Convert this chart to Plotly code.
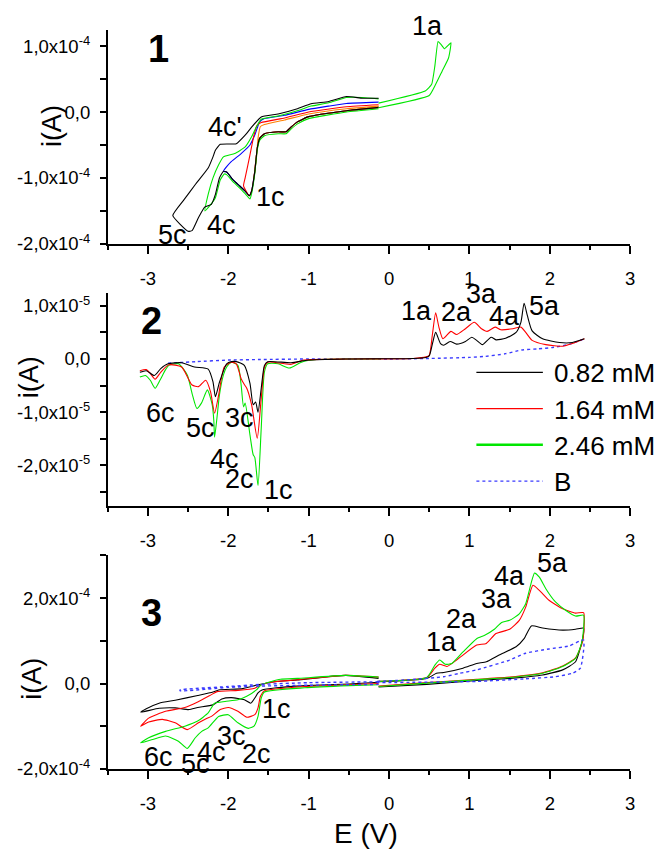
import plotly.graph_objects as go

FONT = "Liberation Sans, Arial, sans-serif"
W, H = 664, 857

# ---------------- Panel 1: CVs with different switching potentials (i in 1e-4 A)
P1_SCALE = 1e-4
P1_BLACK = [(-0.13, 0.07), (-0.53, 0.02), (-1.00, -0.07), (-1.14, -0.15), (-1.22, -0.23),
            (-1.28, -0.30), (-1.38, -0.30), (-1.55, -0.33), (-1.61, -0.40), (-1.64, -0.55),
            (-1.67, -0.90), (-1.71, -1.20), (-1.74, -1.27), (-1.79, -1.20), (-1.86, -1.12),
            (-1.94, -1.03), (-2.02, -0.91), (-2.06, -0.90), (-2.11, -1.00), (-2.16, -1.25),
            (-2.21, -1.40), (-2.29, -1.44), (-2.37, -1.60), (-2.45, -1.80), (-2.50, -1.81),
            (-2.69, -1.57), (-2.55, -1.33), (-2.41, -1.10), (-2.25, -0.85), (-2.19, -0.68),
            (-2.16, -0.58), (-2.10, -0.49), (-1.90, -0.48), (-1.79, -0.35), (-1.71, -0.23),
            (-1.59, -0.075), (-1.38, -0.03), (-1.14, 0.05), (-0.97, 0.125), (-0.75, 0.16),
            (-0.53, 0.235), (-0.33, 0.21), (-0.13, 0.21)]
P1_GREEN = [(-0.13, 0.05), (-0.53, 0.00), (-1.00, -0.10), (-1.14, -0.18), (-1.22, -0.26),
            (-1.28, -0.33), (-1.38, -0.33), (-1.55, -0.36), (-1.61, -0.43), (-1.64, -0.58),
            (-1.67, -0.93), (-1.71, -1.24), (-1.73, -1.32), (-1.79, -1.24), (-1.86, -1.15),
            (-1.94, -1.06), (-2.02, -0.95), (-2.05, -0.94), (-2.10, -1.03), (-2.16, -1.30),
            (-2.23, -1.42), (-2.29, -1.50), (-2.25, -1.25), (-2.19, -1.00), (-2.12, -0.80),
            (-2.06, -0.68), (-1.92, -0.63), (-1.79, -0.53), (-1.71, -0.375), (-1.65, -0.225),
            (-1.59, -0.11), (-1.38, -0.06), (-1.14, 0.02), (-0.97, 0.09), (-0.75, 0.14),
            (-0.53, 0.22), (-0.33, 0.22), (-0.13, 0.20)]
P1_GREEN_ANODIC = [(-0.13, 0.135), (0.45, 0.32), (0.53, 0.42), (0.57, 0.70), (0.61, 1.07),
                   (0.65, 1.02), (0.69, 0.96), (0.77, 1.05), (0.74, 0.82), (0.66, 0.62),
                   (0.58, 0.42), (0.50, 0.25), (-0.13, 0.065)]
P1_BLUE = [(-0.13, 0.07), (-0.53, 0.02), (-1.00, -0.07), (-1.14, -0.15), (-1.22, -0.23),
           (-1.28, -0.30), (-1.38, -0.30), (-1.55, -0.33), (-1.61, -0.40), (-1.64, -0.55),
           (-1.67, -0.90), (-1.71, -1.20), (-1.74, -1.27), (-1.79, -1.20), (-1.86, -1.12),
           (-1.94, -1.03), (-2.02, -0.91), (-2.06, -0.90), (-2.02, -0.83), (-1.96, -0.75),
           (-1.84, -0.63), (-1.73, -0.50), (-1.67, -0.35), (-1.61, -0.15), (-1.55, -0.10),
           (-1.30, -0.05), (-1.00, 0.04), (-0.75, 0.09), (-0.53, 0.13), (-0.13, 0.15)]
P1_RED = [(-0.13, 0.07), (-0.53, 0.02), (-1.00, -0.07), (-1.14, -0.15), (-1.22, -0.23),
          (-1.28, -0.30), (-1.38, -0.30), (-1.55, -0.33), (-1.61, -0.40), (-1.64, -0.55),
          (-1.67, -0.90), (-1.71, -1.20), (-1.74, -1.27), (-1.81, -1.12), (-1.79, -1.00),
          (-1.73, -0.65), (-1.68, -0.35), (-1.64, -0.20), (-1.59, -0.16), (-1.30, -0.09),
          (-1.00, 0.00), (-0.53, 0.08), (-0.13, 0.11)]
P1_ORANGE = [(-0.13, 0.07), (-0.53, 0.02), (-1.00, -0.07), (-1.14, -0.15), (-1.22, -0.23),
             (-1.28, -0.30), (-1.38, -0.30), (-1.55, -0.33), (-1.61, -0.40), (-1.64, -0.55),
             (-1.68, -1.00), (-1.65, -0.70), (-1.63, -0.40), (-1.60, -0.22), (-1.55, -0.19),
             (-1.30, -0.12), (-1.00, -0.03), (-0.53, 0.05), (-0.13, 0.09)]

# ---------------- Panel 2: pulse voltammograms (i in 1e-5 A)
P2_SCALE = 1e-5
P2_BLACK = [(-3.10, -0.25), (-3.02, -0.22), (-2.92, -0.31), (-2.84, -0.18), (-2.75, -0.09),
            (-2.58, -0.07), (-2.42, -0.15), (-2.25, -0.19), (-2.19, -0.43), (-2.16, -0.71),
            (-2.11, -0.44), (-2.02, -0.09), (-1.96, -0.05), (-1.90, -0.05), (-1.80, -0.12),
            (-1.73, -0.46), (-1.69, -0.86), (-1.66, -0.81), (-1.63, -1.00), (-1.59, -0.55),
            (-1.55, -0.12), (-1.51, -0.05), (-1.22, -0.07), (-1.00, -0.02), (-0.50, 0.00),
            (0.30, 0.01), (0.46, 0.03), (0.50, 0.06), (0.54, 0.29), (0.58, 0.50), (0.64, 0.29),
            (0.68, 0.26), (0.76, 0.33), (0.84, 0.28), (0.95, 0.33), (1.03, 0.41), (1.09, 0.35),
            (1.16, 0.27), (1.27, 0.41), (1.33, 0.36), (1.45, 0.39), (1.58, 0.50), (1.64, 0.69),
            (1.68, 1.05), (1.72, 0.82), (1.78, 0.53), (1.91, 0.38), (2.12, 0.31), (2.28, 0.31),
            (2.43, 0.38)]
P2_RED = [(-3.10, -0.22), (-3.02, -0.20), (-2.97, -0.27), (-2.91, -0.38), (-2.84, -0.25),
          (-2.74, -0.11), (-2.58, -0.15), (-2.45, -0.49), (-2.37, -0.52), (-2.28, -0.40),
          (-2.22, -0.62), (-2.17, -1.02), (-2.12, -0.68), (-2.05, -0.15), (-1.96, -0.06),
          (-1.90, -0.09), (-1.84, -0.37), (-1.80, -0.48), (-1.77, -0.55), (-1.71, -0.86),
          (-1.64, -1.49), (-1.59, -0.74), (-1.55, -0.15), (-1.51, -0.06), (-1.30, -0.09),
          (-1.22, -0.10), (-1.06, -0.02), (-0.50, 0.00), (0.30, 0.01), (0.46, 0.04),
          (0.50, 0.07), (0.54, 0.47), (0.58, 0.87), (0.62, 0.60), (0.67, 0.38), (0.77, 0.52),
          (0.84, 0.46), (0.95, 0.57), (1.06, 0.69), (1.15, 0.57), (1.22, 0.52), (1.32, 0.60),
          (1.39, 0.55), (1.54, 0.57), (1.64, 0.60), (1.70, 0.50), (1.78, 0.35), (1.95, 0.27),
          (2.16, 0.24), (2.28, 0.29), (2.43, 0.38)]
P2_GREEN = [(-3.10, -0.34), (-3.03, -0.31), (-2.97, -0.40), (-2.91, -0.55), (-2.85, -0.40),
            (-2.78, -0.20), (-2.74, -0.12), (-2.62, -0.09), (-2.51, -0.30), (-2.45, -0.65),
            (-2.39, -0.93), (-2.33, -0.82), (-2.26, -0.58), (-2.20, -0.86), (-2.18, -1.15),
            (-2.17, -1.47), (-2.14, -1.10), (-2.11, -0.68), (-2.06, -0.30), (-2.02, -0.15),
            (-1.96, -0.06), (-1.88, -0.12), (-1.84, -0.49), (-1.81, -0.90), (-1.79, -0.83),
            (-1.73, -1.43), (-1.69, -1.80), (-1.67, -1.85), (-1.63, -2.38), (-1.59, -1.30),
            (-1.55, -0.24), (-1.51, -0.09), (-1.38, -0.09), (-1.24, -0.17), (-1.09, -0.06),
            (-0.90, -0.01), (-0.50, 0.00), (-0.10, 0.00)]
P2_BLANK = [(-2.75, -0.08), (-2.40, -0.05), (-2.00, -0.02), (-1.60, -0.01), (-1.00, 0.00),
            (0.00, 0.00), (0.50, 0.01), (1.00, 0.03), (1.20, 0.05), (1.45, 0.10), (1.65, 0.17),
            (1.85, 0.19), (2.05, 0.22), (2.25, 0.28), (2.43, 0.38)]

# ---------------- Panel 3: full-range CVs (i in 1e-4 A)
P3_SCALE = 1e-4
P3_BLACK_NEG = [(-0.13, 0.03), (-0.50, -0.01), (-1.03, -0.05), (-1.40, -0.10), (-1.58, -0.15),
                (-1.63, -0.22), (-1.67, -0.34), (-1.72, -0.46), (-1.80, -0.38), (-1.96, -0.33),
                (-2.08, -0.36), (-2.19, -0.50), (-2.38, -0.56), (-2.49, -0.61), (-2.66, -0.57),
                (-2.86, -0.58), (-3.09, -0.67), (-3.02, -0.59), (-2.86, -0.46), (-2.66, -0.39),
                (-2.38, -0.28), (-2.19, -0.20), (-2.12, -0.15), (-1.82, -0.12), (-1.63, -0.03),
                (-1.47, 0.03), (-1.14, 0.085), (-0.54, 0.19), (-0.13, 0.12)]
P3_RED_NEG = [(-0.13, 0.00), (-0.50, -0.03), (-1.05, -0.07), (-1.55, -0.17), (-1.60, -0.30),
              (-1.63, -0.57), (-1.67, -0.73), (-1.77, -0.79), (-1.88, -0.65), (-2.00, -0.56),
              (-2.10, -0.61), (-2.21, -0.77), (-2.27, -0.82), (-2.37, -0.92), (-2.51, -1.08),
              (-2.66, -0.92), (-2.82, -0.84), (-2.99, -0.90), (-3.09, -1.00), (-2.99, -0.81),
              (-2.78, -0.65), (-2.54, -0.56), (-2.38, -0.43), (-2.21, -0.26), (-2.14, -0.19),
              (-1.88, -0.16), (-1.67, -0.11), (-1.59, -0.03), (-1.47, 0.03), (-1.14, 0.09),
              (-0.54, 0.19), (-0.13, 0.15)]
P3_GREEN_NEG = [(-0.13, -0.03), (-0.50, -0.05), (-1.05, -0.10), (-1.55, -0.20), (-1.59, -0.34),
                (-1.63, -0.77), (-1.68, -1.00), (-1.75, -1.05), (-1.88, -0.92), (-2.00, -0.73),
                (-2.12, -0.77), (-2.25, -1.04), (-2.33, -1.12), (-2.41, -1.27), (-2.51, -1.52),
                (-2.62, -1.35), (-2.78, -1.23), (-2.94, -1.31), (-3.09, -1.39), (-2.99, -1.27),
                (-2.78, -1.12), (-2.54, -1.00), (-2.38, -0.88), (-2.25, -0.69), (-2.17, -0.46),
                (-2.04, -0.42), (-1.88, -0.38), (-1.77, -0.30), (-1.65, -0.15), (-1.59, -0.03),
                (-1.35, 0.10), (-1.14, 0.12), (-0.54, 0.19), (-0.13, 0.15)]
P3_BLANK_NEG = [(-0.13, 0.04), (-1.00, 0.02), (-1.60, -0.02), (-2.00, -0.07), (-2.60, -0.15),
                (-2.60, -0.17), (-2.00, -0.09), (-1.60, -0.06), (-1.00, -0.04), (-0.13, -0.02)]
P3_GREEN_POS = [(-0.13, 0.05), (0.47, 0.14), (0.57, 0.43), (0.63, 0.55), (0.70, 0.45),
                (0.78, 0.47), (0.92, 0.74), (1.09, 1.05), (1.19, 1.13), (1.31, 1.27),
                (1.40, 1.43), (1.50, 1.48), (1.62, 1.63), (1.70, 1.87), (1.77, 2.37),
                (1.81, 2.59), (1.87, 2.49), (1.95, 2.22), (2.07, 1.91), (2.20, 1.71),
                (2.32, 1.58), (2.42, 1.60), (2.40, 0.98), (2.32, 0.59), (2.16, 0.40),
                (1.91, 0.24), (1.50, 0.14), (1.09, 0.09), (0.47, 0.01), (-0.13, -0.07)]
P3_RED_POS = [(-0.13, 0.05), (0.47, 0.14), (0.57, 0.36), (0.63, 0.45), (0.72, 0.40),
              (0.84, 0.55), (1.09, 0.90), (1.21, 0.94), (1.33, 1.17), (1.50, 1.27),
              (1.62, 1.48), (1.70, 1.79), (1.79, 2.30), (1.87, 2.18), (1.99, 1.95),
              (2.16, 1.75), (2.32, 1.65), (2.42, 1.66), (2.41, 1.00), (2.32, 0.60),
              (2.16, 0.41), (1.91, 0.25), (1.50, 0.15), (1.09, 0.10), (0.47, 0.02),
              (-0.13, -0.06)]
P3_BLACK_POS = [(-0.13, 0.04), (0.47, 0.12), (0.59, 0.24), (0.68, 0.26), (0.92, 0.36),
                (1.09, 0.47), (1.21, 0.51), (1.37, 0.67), (1.58, 0.86), (1.68, 1.05),
                (1.77, 1.35), (1.91, 1.30), (2.16, 1.25), (2.32, 1.27), (2.42, 1.30),
                (2.40, 0.98), (2.32, 0.51), (2.16, 0.32), (1.91, 0.20), (1.50, 0.12),
                (1.09, 0.07), (0.47, -0.02), (-0.13, -0.08)]
P3_BLANK_POS = [(-0.15, 0.05), (0.25, 0.09), (0.68, 0.16), (0.88, 0.24), (1.09, 0.32),
                (1.50, 0.55), (1.70, 0.71), (1.99, 0.81), (2.24, 0.88), (2.42, 1.02),
                (2.38, 0.36), (2.28, 0.24), (2.07, 0.16), (1.70, 0.11), (1.09, 0.05),
                (-0.15, 0.02)]

# ---------------- axis ticks
X_TICKS = [-3, -2, -1, 0, 1, 2, 3]
X_TICKTEXT = ["-3", "-2", "-1", "0", "1", "2", "3"]
P1_YTICKS = [-2e-4, -1e-4, 0, 1e-4]
P1_YTEXT = ["-2,0x10<sup>-4</sup>", "-1,0x10<sup>-4</sup>", "0,0", "1,0x10<sup>-4</sup>"]
P2_YTICKS = [-2e-5, -1e-5, 0, 1e-5]
P2_YTEXT = ["-2,0x10<sup>-5</sup>", "-1,0x10<sup>-5</sup>", "0,0", "1,0x10<sup>-5</sup>"]
P3_YTICKS = [-2e-4, 0, 2e-4]
P3_YTEXT = ["-2,0x10<sup>-4</sup>", "0,0", "2,0x10<sup>-4</sup>"]

LEGEND_NAMES = ["0.82 mM", "1.64 mM", "2.46 mM", "B"]

BLACK, RED, GREEN, BLUE, ORANGE = "#000000", "#ff0000", "#00e600", "#0000ff", "#ff8000"
DOTBLUE = "#3a3aff"

fig = go.Figure()


def curve(points, scale, color, axis, width=1.1, dash="solid", smooth=0.6):
    fig.add_trace(go.Scatter(
        x=[p[0] for p in points], y=[p[1] * scale for p in points],
        mode="lines", xaxis="x" + axis, yaxis="y" + axis, showlegend=False,
        line=dict(color=color, width=width, dash=dash, shape="spline", smoothing=smooth),
        hoverinfo="skip"))


# panel 1
curve(P1_BLUE, P1_SCALE, BLUE, "", smooth=0.4)
curve(P1_RED, P1_SCALE, RED, "", smooth=0.4)
curve(P1_ORANGE, P1_SCALE, ORANGE, "", smooth=0.4)
curve(P1_GREEN, P1_SCALE, GREEN, "", smooth=0.4)
curve(P1_BLACK, P1_SCALE, BLACK, "", smooth=0.4)
curve(P1_GREEN_ANODIC, P1_SCALE, GREEN, "", smooth=0.4)

# panel 2
curve(P2_BLANK, P2_SCALE, DOTBLUE, "2", width=1.4, dash="dot")
curve(P2_GREEN, P2_SCALE, GREEN, "2")
curve(P2_RED, P2_SCALE, RED, "2")
curve(P2_BLACK, P2_SCALE, BLACK, "2")

# panel 3
for pts, col in [(P3_BLACK_NEG, BLACK), (P3_RED_NEG, RED), (P3_GREEN_NEG, GREEN),
                 (P3_BLACK_POS, BLACK), (P3_RED_POS, RED), (P3_GREEN_POS, GREEN)]:
    curve(pts, P3_SCALE, col, "3", smooth=0.5)
curve(P3_BLANK_NEG, P3_SCALE, DOTBLUE, "3", width=1.4, dash="dot", smooth=0.5)
curve(P3_BLANK_POS, P3_SCALE, DOTBLUE, "3", width=1.4, dash="dot", smooth=0.5)

# ---------------- layout
X_DOMAIN = [108.5 / W, 635 / W]


def ydom(top_px, bottom_px):
    return [1 - bottom_px / H, 1 - top_px / H]


tickfont = dict(family=FONT, size=18.5, color="black")


def xaxis(anchor):
    return dict(domain=X_DOMAIN, range=[-3.5, 3], anchor=anchor, showline=True,
                linecolor="black", linewidth=1.6, ticks="outside", ticklen=8, tickwidth=1.6,
                tickcolor="black", tickvals=X_TICKS, ticktext=X_TICKTEXT, tickfont=tickfont,
                minor=dict(dtick=0.5, tick0=0, ticks="outside", ticklen=4, tickwidth=1.6,
                           tickcolor="black", showgrid=False),
                showgrid=False, zeroline=False, ticklabelstandoff=9)


def yaxis(anchor, dom, rng, vals, text, minor_step):
    return dict(domain=dom, range=rng, anchor=anchor, showline=True, linecolor="black",
                linewidth=1.6, ticks="outside", ticklen=6, tickwidth=1.6, tickcolor="black",
                tickvals=vals, ticktext=text, tickfont=tickfont,
                minor=dict(dtick=minor_step, tick0=0, ticks="outside", ticklen=6,
                           tickwidth=1.6, tickcolor="black", showgrid=False),
                showgrid=False, zeroline=False, ticklabelstandoff=6)


fig.update_layout(
    width=W, height=H, margin=dict(l=0, r=0, t=0, b=0),
    paper_bgcolor="white", plot_bgcolor="white", showlegend=False,
    xaxis=xaxis("y"), xaxis2=xaxis("y2"), xaxis3=xaxis("y3"),
    yaxis=yaxis("x", ydom(30, 246.7), [-2e-4, 1.25e-4], P1_YTICKS, P1_YTEXT, 0.5e-4),
    yaxis2=yaxis("x2", ydom(296, 511.7), [-2.76e-5, 1.25e-5], P2_YTICKS, P2_YTEXT, 0.5e-5),
    yaxis3=yaxis("x3", ydom(562, 778), [-2e-4, 3e-4], P3_YTICKS, P3_YTEXT, 1e-4),
)


def label(text, x, y, size=27, bold=False, xanchor="center", angle=0):
    fig.add_annotation(text=("<b>%s</b>" % text) if bold else text,
                       x=x / W, y=1 - y / H, xref="paper", yref="paper",
                       xanchor=xanchor, yanchor="middle", showarrow=False, textangle=angle,
                       font=dict(family=FONT, size=size, color="black"))


# panel numbers
label("1", 160, 50, size=38, bold=True)
label("2", 152.5, 325, size=38, bold=True)
label("3", 153, 620, size=38, bold=True)

# axis titles
label("i(A)", 52, 128, size=27, angle=-90)
label("i(A)", 29, 382, size=27, angle=-90)
label("i(A)", 32, 687, size=27, angle=-90)
label("E (V)", 369, 843, size=28)

# peak labels, panel 1
for t, x, y in [("1a", 431, 26), ("4c'", 227, 128), ("1c", 273, 199), ("4c", 223, 228),
                ("5c", 174, 238)]:
    label(t, x, y)
# peak labels, panel 2
for t, x, y in [("6c", 161.7, 417.7), ("5c", 201.7, 432.7), ("3c", 241.7, 422.7),
                ("4c", 226, 464.3), ("2c", 241.7, 484.3), ("1c", 281, 495.3),
                ("1a", 420, 314.3), ("2a", 460, 316), ("3a", 485, 297), ("4a", 508.3, 319.3),
                ("5a", 548.3, 309.3)]:
    label(t, x, y)
# peak labels, panel 3
for t, x, y in [("1a", 445, 649.3), ("2a", 465, 626), ("3a", 500, 606), ("4a", 513.3, 582.7),
                ("5a", 556.7, 569.3), ("1c", 278.3, 717.7), ("3c", 233.3, 744.3),
                ("2c", 258.3, 762.7), ("4c", 213.3, 761), ("5c", 196.7, 772.7),
                ("6c", 160, 766)]:
    label(t, x, y)

# legend for panel 2 (line samples + names)
legend_styles = [(BLACK, 1.2, "solid"), (RED, 1.2, "solid"), (GREEN, 2.5, "solid"),
                 (DOTBLUE, 1.4, "dot")]
for k, (name, (col, w, dash)) in enumerate(zip(LEGEND_NAMES, legend_styles)):
    yy = 376.7 + k * 36.7
    fig.add_shape(type="line", xref="paper", yref="paper", x0=480 / W, x1=547 / W,
                  y0=1 - yy / H, y1=1 - yy / H, line=dict(color=col, width=w, dash=dash))
    label(name, 556, yy + 1, size=26, xanchor="left")

fig.write_html("out.html")
